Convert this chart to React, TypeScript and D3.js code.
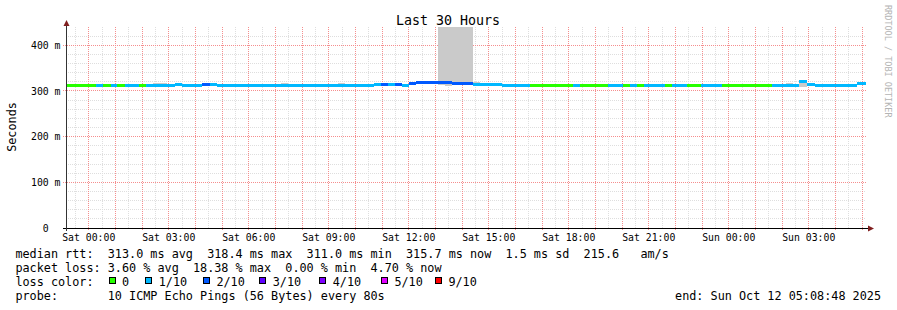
import React from 'react';
import * as d3 from 'd3';

const W = 897;
const H = 310;
const startTime = new Date(2025, 9, 10, 23, 8, 48);
const endTime = new Date(2025, 9, 12, 5, 8, 48);
const sat0 = new Date(2025, 9, 11, 0, 0, 0);

// median segments: start (minutes since Sat 00:00), median (ms), loss (pings of 10)
const segStartMin = [-52, -15, 16, 32, 50, 64, 82, 113, 129, 194, 210, 255, 273, 288, 642, 657, 673, 689, 705, 720, 736, 817, 864, 880, 930, 993, 1089, 1105, 1152, 1168, 1202, 1217, 1233, 1249, 1265, 1281, 1296, 1312, 1346, 1377, 1393, 1409, 1425, 1440, 1537, 1598, 1616, 1634, 1697, 1728];
const segMedian = [311, 313, 313, 313, 313, 313, 313, 313, 313, 315, 313, 315, 315, 313, 314, 315, 314, 315, 313, 316, 318, 317, 315, 314, 313, 313, 313, 313, 311, 313, 313, 311, 313, 313, 311, 313, 311, 311, 313, 313, 311, 313, 313, 312, 312, 320, 315, 311, 313, 316];
const segLoss = [0, 0, 1, 0, 1, 0, 1, 0, 1, 1, 1, 2, 1, 1, 1, 2, 1, 2, 1, 2, 2, 2, 1, 1, 1, 0, 1, 0, 0, 1, 0, 1, 0, 1, 1, 1, 0, 1, 0, 1, 1, 1, 0, 0, 1, 1, 1, 1, 1, 1];

// smoke (ping spread): start / end (minutes since Sat 00:00), low / high (ms)
const smokeStartMin = [145, 433, 561, 720, 786, 801, 864, 1569, 1598, 1616];
const smokeEndMin = [176, 449, 577, 736, 864, 817, 880, 1584, 1616, 1634];
const smokeLo = [313, 313, 313, 316, 313, 311, 313, 312, 309, 313];
const smokeHi = [317, 317, 317, 320, 600, 318, 319, 317, 324, 318];

const lossLabels = ['0', '1/10', '2/10', '3/10', '4/10', '5/10', '9/10'];
const lossColors = ['#26ff00', '#00b8ff', '#0059ff', '#5e00ff', '#7e00ff', '#dd00ff', '#ff0000'];
const lossBoxX = [108.7, 145.3, 203, 259.3, 319.3, 381, 435];

const yMajor = [0, 100, 200, 300, 400];
const yMinorStep = 20;

const titleText = 'Last 30 Hours';
const yAxisTitle = 'Seconds';
const legendRow1 = 'median rtt:  313.0 ms avg  318.4 ms max  311.0 ms min  315.7 ms now  1.5 ms sd  215.6   am/s';
const legendRow2 = 'packet loss: 3.60 % avg  18.38 % max  0.00 % min  4.70 % now';
const legendRow3Label = 'loss color:';
const legendRow4 = 'probe:       10 ICMP Echo Pings (56 Bytes) every 80s';
const endText = 'end: Sun Oct 12 05:08:48 2025';
const watermark = 'RRDTOOL / TOBI OETIKER';

const MONO = '"DejaVu Sans Mono", monospace';

export default function App() {
  const x = d3.scaleTime().domain([startTime, endTime]).range([66, 866]);
  const y = d3.scaleLinear().domain([0, 440]).range([228, 27]);
  const toDate = (m: number) =>
    new Date(Math.min(endTime.getTime(), Math.max(startTime.getTime(), sat0.getTime() + m * 60000)));

  const px = (v: number) => Math.floor(v) + 0.5;

  const hours = d3.timeHour.range(startTime, endTime);
  const halfHours = d3.timeMinute.every(30)!.range(startTime, endTime).filter((d) => d.getMinutes() === 30);
  const labelHours = hours.filter((d) => d.getHours() % 3 === 0);
  const fmt = d3.timeFormat('%a %H:%M');

  const yMinor = d3.range(yMinorStep, 440, yMinorStep).filter((v) => v % 100 !== 0);

  const top = Math.round(y(440));
  const bottom = Math.round(y(0));

  const segs = segStartMin.map((s, i) => ({
    x0: x(toDate(s)),
    x1: x(i < segStartMin.length - 1 ? toDate(segStartMin[i + 1]) : endTime),
    v: segMedian[i],
    loss: segLoss[i],
  }));

  const smokes = smokeStartMin.map((s, i) => ({
    x0: x(toDate(s)),
    x1: x(toDate(smokeEndMin[i])),
    yTop: Math.max(top, y(smokeHi[i])),
    yBot: y(smokeLo[i]),
  }));

  const charW = 7.1;
  const lx = 15.4;

  return (
    <svg width={W} height={H} style={{ position: 'absolute', left: 0, top: 0, background: '#fff' }} shapeRendering="crispEdges">
      <rect x={0} y={0} width={W} height={H} fill="#ffffff" />
      {/* minor grid */}
      <g stroke="#dedede" strokeWidth={1} strokeDasharray="1,1" fill="none">
        {halfHours.map((d, i) => (
          <path key={'hv' + i} d={`M${px(x(d))},${top}V${bottom}`} />
        ))}
        {yMinor.map((v, i) => (
          <path key={'hh' + i} d={`M66,${px(y(v))}H866`} />
        ))}
      </g>
      {/* major grid */}
      <g stroke="#f58e8e" strokeWidth={1} strokeDasharray="1,1" fill="none">
        {hours.map((d, i) => (
          <path key={'mv' + i} d={`M${px(x(d))},${top}V${bottom + 2}`} />
        ))}
        {yMajor.filter((v) => v > 0).map((v, i) => (
          <path key={'mh' + i} d={`M63,${px(y(v))}H866`} />
        ))}
      </g>
      {/* smoke */}
      <g fill="#cacaca">
        {smokes.map((s, i) => (
          <rect key={'s' + i} x={Math.round(s.x0)} width={Math.round(s.x1) - Math.round(s.x0)} y={Math.round(s.yTop)} height={Math.round(s.yBot) - Math.round(s.yTop)} />
        ))}
      </g>
      {/* median line coloured by loss */}
      <g>
        {segs.map((s, i) => (
          <rect
            key={'m' + i}
            x={Math.round(s.x0)}
            width={Math.round(s.x1) - Math.round(s.x0)}
            y={Math.round(y(s.v) - 1.5)}
            height={3}
            fill={lossColors[s.loss]}
          />
        ))}
      </g>
      {/* axes */}
      <line x1={63} x2={868} y1={228.5} y2={228.5} stroke="#000" strokeWidth={1} />
      <line x1={66.5} x2={66.5} y1={231} y2={25} stroke="#333" strokeWidth={1} />
      <g shapeRendering="geometricPrecision">
        <path d="M868,225.5 L874,228.5 L868,231.5 Z" fill="#801f1f" />
        <path d="M63.5,26 L66.5,20 L69.5,26 Z" fill="#801f1f" />
      </g>
      {/* y labels */}
      <g fontFamily={MONO} fontSize={9.8} fill="#000">
        {yMajor.map((v) => (
          <text key={'yl' + v} x={v === 0 ? 48.6 : 60.5} y={y(v) + 3.6} textAnchor="end">
            {v === 0 ? '0' : `${v} m`}
          </text>
        ))}
        {labelHours.map((d, i) => (
          <text key={'xl' + i} x={x(d)} y={241} textAnchor="middle" style={{ whiteSpace: 'pre' }}>
            {fmt(d)}
          </text>
        ))}
      </g>
      {/* title */}
      <text x={448} y={24.5} textAnchor="middle" fontFamily={MONO} fontSize={13.3} fill="#000">
        {titleText}
      </text>
      <text
        transform={`translate(15.5,127) rotate(-90)`}
        textAnchor="middle"
        fontFamily={MONO}
        fontSize={11.8}
        fill="#000"
      >
        {yAxisTitle}
      </text>
      <text
        transform={`translate(885,5) rotate(90)`}
        fontFamily={MONO}
        fontSize={8.5}
        fill="#b4b4b4"
        style={{ whiteSpace: 'pre' }}
      >
        {watermark}
      </text>
      {/* legend */}
      <g fontFamily={MONO} fontSize={11.8} fill="#000" style={{ whiteSpace: 'pre' }}>
        <text x={lx} y={258} xmlSpace="preserve">{legendRow1}</text>
        <text x={lx} y={272} xmlSpace="preserve">{legendRow2}</text>
        <text x={lx} y={286} xmlSpace="preserve">{legendRow3Label}</text>
        {lossLabels.map((l, i) => (
          <g key={'lg' + i}>
            <rect x={Math.round(lossBoxX[i]) + 0.5} y={277.5} width={6} height={6} fill={lossColors[i]} stroke="#000" strokeWidth={1} />
            <text x={lossBoxX[i] + 2 * charW - 0.8} y={286}>{l}</text>
          </g>
        ))}
        <text x={lx} y={300} xmlSpace="preserve">{legendRow4}</text>
        <text x={881} y={300} textAnchor="end">{endText}</text>
      </g>
    </svg>
  );
}
